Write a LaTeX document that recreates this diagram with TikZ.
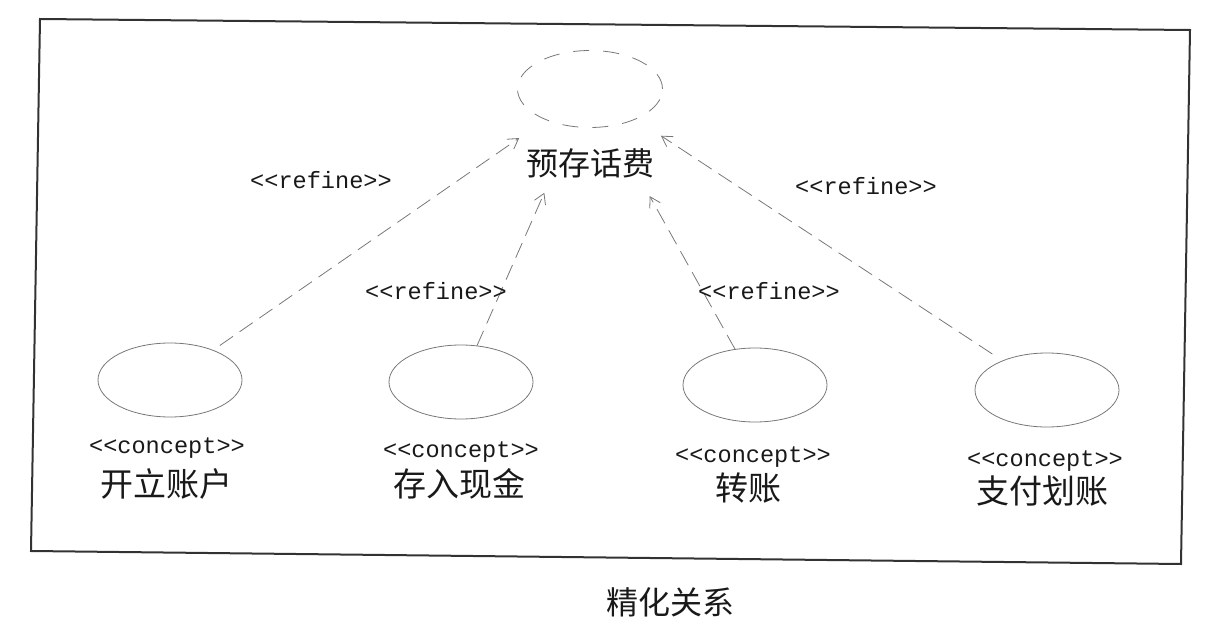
\documentclass[tikz,border=0pt]{standalone}
\usepackage{fontspec}
\setmonofont{Liberation Mono}
\newfontfamily\cjk{Noto Sans CJK SC}
\usetikzlibrary{arrows.meta,shapes.geometric}
\definecolor{LineClr}{RGB}{120,120,120}
\definecolor{FrameClr}{RGB}{50,50,50}
\definecolor{TextClr}{RGB}{25,25,25}

\tikzset{
  usecase/.style={ellipse,draw=LineClr,line width=0.4pt,minimum width=72pt,minimum height=37pt,inner sep=0pt},
  stereo/.style={font=\ttfamily\fontsize{11.8}{12}\selectfont,text=TextClr,inner sep=0pt},
  cname/.style={font=\cjk\fontsize{16.5}{18}\selectfont,text=TextClr,inner sep=0pt},
  refine/.style={draw=LineClr,line width=0.4pt,dash pattern=on 8pt off 4pt,
    -{Straight Barb[length=5pt,width=6pt]}},
}

\begin{document}
\begin{tikzpicture}[x=0.5pt,y=-0.5pt]
\useasboundingbox (0,0) rectangle (1206,631);

% frame of the model
\draw[FrameClr,line width=1pt] (40,19) -- (1190,30) -- (1181,564) -- (31,551) -- cycle;

% refined use case
\node[usecase,minimum width=72.5pt,minimum height=38.5pt,dash pattern=on 8pt off 7pt] (prepaid) at (590,89) {};
\node[cname,font=\cjk\fontsize{16}{18}\selectfont] (prepaidlbl) at (590,163) {预存话费};

% concepts
\node[usecase] (open) at (170,380) {};
\node[usecase] (cash) at (461,382) {};
\node[usecase] (transfer) at (755,385) {};
\node[usecase] (pay) at (1047,390) {};

\node[stereo] (openst) at (167,448) {<<concept>>};
\node[stereo] (cashst) at (461,452) {<<concept>>};
\node[stereo] (transferst) at (753,457) {<<concept>>};
\node[stereo] (payst) at (1045,461) {<<concept>>};

\node[cname] (openlbl) at (166,484) {开立账户};
\node[cname] (cashlbl) at (459,484) {存入现金};
\node[cname] (transferlbl) at (748,488) {转账};
\node[cname] (paylbl) at (1042,491) {支付划账};

% refine dependencies
\draw[refine,shorten <=4pt,shorten >=16pt] (open) -- (prepaid);
\draw[refine,shorten >=36pt] (cash) -- (prepaid);
\draw[refine,shorten >=40pt] (transfer) -- (prepaid);
\draw[refine,shorten <=6pt,shorten >=15pt] (pay) -- (prepaid);

\node[stereo] (ref1) at (321,180) {<<refine>>};
\node[stereo] (ref2) at (436,291) {<<refine>>};
\node[stereo] (ref3) at (769,291) {<<refine>>};
\node[stereo] (ref4) at (866,186) {<<refine>>};

% caption
\node[cname,font=\cjk\fontsize{16}{18}\selectfont] (caption) at (670,602) {精化关系};

\end{tikzpicture}
\end{document}
